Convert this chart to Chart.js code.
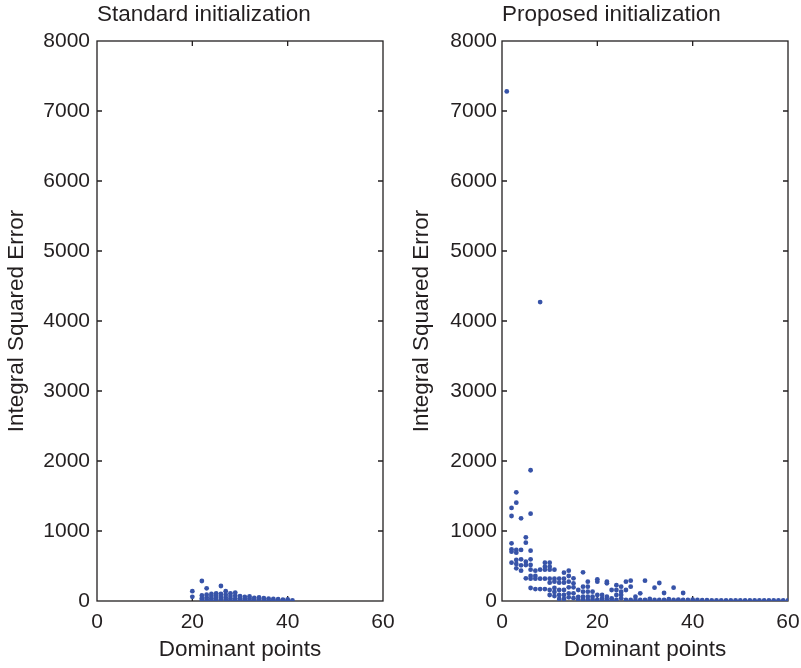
<!DOCTYPE html>
<html>
<head>
<meta charset="utf-8">
<script src="https://cdn.jsdelivr.net/npm/chart.js@4.4.1/dist/chart.umd.min.js"></script>
<style>
body{margin:0;background:#fff;}
#wrap{position:relative;width:801px;height:668px;}
#left{position:absolute;left:0;top:0;}
#right{position:absolute;left:400px;top:0;}
</style>
</head>
<body>
<div id="wrap">
<canvas id="left" width="400" height="668"></canvas>
<canvas id="right" width="401" height="668"></canvas>
</div>
<script>
// values, one list of y values per dominant-point count
var stdCols = [20,22,23,24,25,26,27,28,29,30,31,32,33,34,35,36,37,38,39,40,41]
var stdVals = [
	[140,60],[286,80,40,15],[181,90,50,20],[100,70,40,15],[110,80,45,15],
	[214,100,60,25],[140,90,50,20],[110,70,35,12],[120,75,35,12],[70,40,15],
	[60,30,10],[65,35,12],[45,20],[50,20],[40,15],[35,12],[30,10],[25,8],[20,8],[22,8],[10]
]
var propCols = [1,2,3,4,5,6,7,8,9,10,11,12,13,14,15,16,17,18,19,20,21,22,23,24,25,26,27,28,29,30,
	31,32,33,34,35,36,37,38,39,40,41,42,43,44,45,46,47,48,49,50,51,52,53,54,55,56,57,58,59,60]
var propVals = [
	[7280],
	[1330,1214,824,738,705,547],
	[1553,1405,729,690,586,529,467],
	[1181,729,595,510,433],
	[910,833,562,514,324],
	[1868,1248,719,595,514,448,357,319,186],
	[433,357,319,171],
	[4270,448,319,171],
	[547,490,448,319,171],
	[547,490,448,319,262,157,86],
	[448,319,276,186,129,71],
	[319,262,157,86,30],
	[405,319,262,157,86,30],
	[433,357,276,196,110,53],
	[324,253,196,110,40],
	[157,60,20],
	[410,204,133,62,20],
	[276,204,133,62,20],
	[133,62,20],
	[310,276,86,20],
	[86,38,15],
	[276,253,62,15],
	[157,38,15],
	[226,157,86,15],
	[204,133,86,38],
	[276,157,15],
	[290,204,15],
	[62,15],
	[109,15],
	[290,15],
	[30,12],[190,15],[257,15],[114,15],[25,12],[190,15],[20,10],[114,15],[15],[20],
	[15],[12],[12],[10],[10],[10],[10],[10],[10],[10],
	[10],[10],[10],[10],[10],[10],[10],[10],[10],[10]
]
var xTicks = [0,20,40,60]
var yTicks = [0,1000,2000,3000,4000,5000,6000,7000,8000]

const toPoints = function(cols,vals){
	var pts = []
	cols.map((c,i) => {
		vals[i].map(v => pts.push({x:c,y:v}))
	})
	return pts
}

// matlab style box with inward ticks on all four sides
const boxFrame = {
	id:'boxFrame',
	beforeDatasetsDraw(chart){
		const {ctx, chartArea:a, scales:{x,y}} = chart
		ctx.save()
		ctx.strokeStyle = '#231f20'
		ctx.lineWidth = 1.3
		ctx.strokeRect(a.left, a.top, a.right-a.left, a.bottom-a.top)
		ctx.beginPath()
		xTicks.slice(1,-1).map(v => {
			var px = x.getPixelForValue(v)
			ctx.moveTo(px,a.bottom); ctx.lineTo(px,a.bottom-5)
			ctx.moveTo(px,a.top); ctx.lineTo(px,a.top+5)
		})
		yTicks.slice(1,-1).map(v => {
			var py = y.getPixelForValue(v)
			ctx.moveTo(a.left,py); ctx.lineTo(a.left+5,py)
			ctx.moveTo(a.right,py); ctx.lineTo(a.right-5,py)
		})
		ctx.stroke()
		ctx.restore()
	}
}

const makePanel = function(id,title,points,padLeft,padRight,yWidth,yTickPad){
	return new Chart(document.getElementById(id),{
		type:'scatter',
		data:{datasets:[{
			data:points,
			backgroundColor:'#3753a8',
			borderWidth:0,
			pointRadius:2.4,
			pointHoverRadius:2.4
		}]},
		options:{
			responsive:false,
			animation:false,
			devicePixelRatio:1,
			layout:{padding:{left:padLeft,right:padRight,top:0,bottom:0}},
			plugins:{
				legend:{display:false},
				tooltip:{enabled:false},
				title:{
					display:true,
					text:title,
					align:'start',
					fullSize:false,
					color:'#231f20',
					font:{family:'Liberation Sans',size:22.5,weight:'normal'},
					padding:{top:1,bottom:13}
				}
			},
			scales:{
				x:{
					type:'linear',min:0,max:60,
					afterBuildTicks:(axis) => { axis.ticks = xTicks.map(v => ({value:v})) },
					afterFit:(axis) => { axis.height = 67; axis.paddingLeft = 0; axis.paddingRight = 0 },
					grid:{display:false,drawTicks:false},
					border:{display:false},
					ticks:{color:'#231f20',padding:9,font:{family:'Liberation Sans',size:21},
						callback:(v) => String(v)},
					title:{display:true,text:'Dominant points',color:'#231f20',
						font:{family:'Liberation Sans',size:22.5},padding:{top:0,bottom:5}}
				},
				y:{
					type:'linear',min:0,max:8000,
					afterBuildTicks:(axis) => { axis.ticks = yTicks.map(v => ({value:v})) },
					afterFit:(axis) => { axis.width = yWidth; axis.paddingTop = 0; axis.paddingBottom = 0 },
					grid:{display:false,drawTicks:false},
					border:{display:false},
					ticks:{color:'#231f20',padding:yTickPad,font:{family:'Liberation Sans',size:21},
						callback:(v) => String(v)},
					title:{display:true,text:'Integral Squared Error',color:'#231f20',
						font:{family:'Liberation Sans',size:22.5},padding:{top:3,bottom:0}}
				}
			}
		},
		plugins:[boxFrame]
	})
}

makePanel('left','Standard initialization',toPoints(stdCols,stdVals),0,17,97,7)
makePanel('right','Proposed initialization',toPoints(propCols,propVals),5,13,97,5)
</script>
</body>
</html>
